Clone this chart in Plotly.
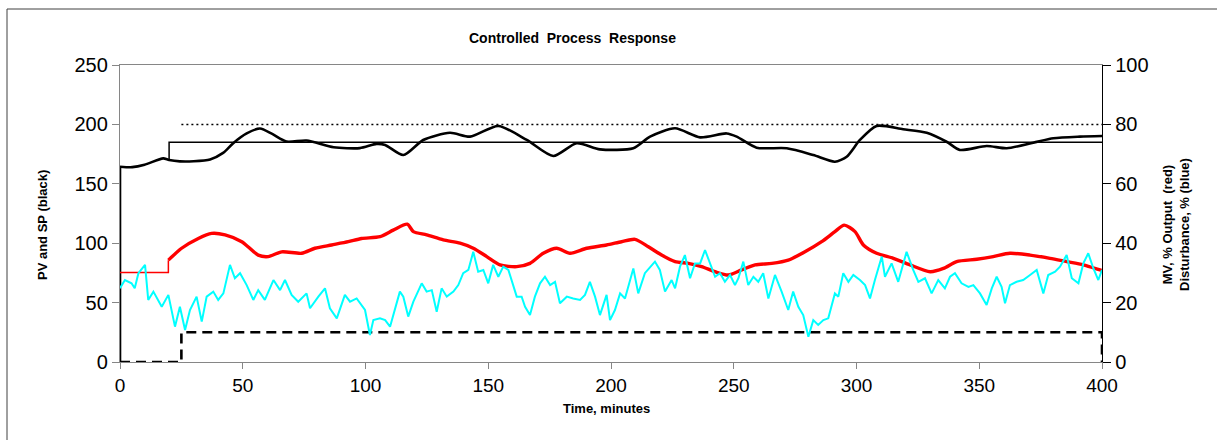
import plotly.graph_objects as go

# ---------------- data ----------------
SP_T = [20, 20, 400]
SP_VAL = [170, 185, 185]

LIMIT_T = [25, 400]
LIMIT_VAL = [200, 200]

STEP_T = [0, 25, 25, 400, 400]
STEP_PCT = [0, 0, 10, 10, 0]

PV_T = [0, 5, 10, 17.6, 20, 24.4, 30, 36.7, 42, 46, 51.6, 57, 62, 67.8, 76, 87, 97.7,
        104.5, 108, 115.4, 123.5, 134.4, 142.6, 154.1, 165.7, 176.5, 186, 195.5, 209.1,
        215.9, 226.1, 236.3, 247.1, 251.2, 259.3, 271.6, 282.4, 291.2, 296, 301.4, 308.2,
        319, 328.6, 336.7, 342.1, 353, 361.2, 372, 380.2, 391, 400]
PV_VAL = [164.4, 164, 166, 171.4, 170, 168.9, 169, 170.5, 176, 184, 192.4, 196.5, 192,
          185.6, 186.4, 180.8, 180, 183.6, 182.7, 174.2, 186.9, 193, 189.7, 198.7, 186.9,
          173.4, 184.1, 179, 179.9, 189.7, 196.7, 189.1, 192.4, 189.7, 180.4, 179.9, 174.2,
          168.6, 172.8, 186.9, 198.7, 195.9, 193, 185.4, 178.5, 181.8, 179.9, 184.6, 188.3,
          189.7, 190.2]

MV_T = [0, 19.7, 19.7, 25.1, 31.9, 37.3, 42.8, 49.6, 56.3, 60.4, 65.9, 74, 79.4, 86.2, 93,
        98.4, 105.9, 111.3, 117, 119.5, 124.9, 131.7, 138.5, 143.9, 149.4, 154.8, 161.6,
        167, 172.4, 177.9, 183.3, 190.1, 198.2, 204.3, 209.8, 215.2, 220.6, 226.1, 231.5,
        236.9, 242.4, 247.8, 253.2, 258.7, 265.5, 272.2, 279, 285.8, 291.2, 295, 299.4,
        302.8, 308.2, 315, 321.8, 330, 335.4, 340.8, 349, 355.7, 362.5, 370.7, 378.8, 385.6,
        392.4, 399.2, 400]
MV_PCT = [30.1, 30.1, 34.3, 38.3, 41.6, 43.3, 42.8, 40.5, 36, 35.5, 37.1, 36.6, 38.3, 39.4,
          40.5, 41.6, 42.2, 44.4, 46.4, 43.9, 42.8, 41.1, 40, 38.3, 35.5, 32.7, 32.1, 33.2,
          36.6, 38.3, 36.6, 38.3, 39.4, 40.5, 41.3, 38.8, 36, 33.8, 33.2, 32.1, 30.4, 29.3,
          31, 32.7, 33.2, 34.3, 37.1, 40.5, 43.9, 46.1, 43.9, 39.4, 36.6, 34.9, 32.7, 30.4,
          31.5, 33.8, 34.6, 35.5, 36.6, 36, 34.9, 33.8, 32.7, 31, 30.8]

DIST_T = [0, 2, 4.7, 6, 7.5, 10.2, 11.5, 13.6, 17, 19.7, 22.4, 24.4, 26.5, 28.5, 31.2, 33.3,
          35.3, 38, 40, 42.1, 44.8, 46.8, 48.9, 51.6, 54.3, 56.3, 59, 62.5, 65.2, 67.2, 69.9,
          72.6, 76, 77.4, 80.8, 83.5, 85.5, 88.3, 91.6, 93.7, 96.4,
          99.8, 101.8, 103.2, 105.9, 108, 110, 114, 115.4, 117.4, 119.5, 122.9, 124.9, 127,
          129, 131, 133.1, 135.8, 137.8, 139.8, 141.9, 143.9, 145.9, 148, 150, 152, 154.1,
          156.1, 158.2, 161.6, 163.6, 165, 167, 169, 171.1, 173.1, 175.2, 177.2, 179.2, 182,
          184.6, 187.4, 189.4, 191.4, 193.5, 195.5, 198.2,
          199.6, 201.6, 203.7, 205.7, 209.1, 211.1, 213.8, 217.9, 219.9, 222, 224.7, 226.1,
          228.1, 230.1, 232.2, 234.2, 236.3, 238.3, 240.3, 242.4, 244.4, 246.4, 248.5, 250.5,
          251.9, 253.9, 255.9, 258, 260, 262, 264.1, 266.8, 269.5, 272.2, 274.2, 276.3, 278.3,
          280.4, 282.4, 284.4, 286.5, 288.5, 291.2, 292.6, 294.6, 296.7, 298.7,
          301.4, 303.5, 305.5, 307.5, 310.3, 311.6, 314.3, 317, 320.4, 323.1, 325.2, 327.9,
          330.6, 333.3, 336, 338.1, 340.1, 342.8, 345.6, 347.6, 350.3, 353, 355.1, 357.1,
          359.1, 360.5, 362.5, 365.2, 367.9, 370.7, 373.4, 376.1, 378.1, 380.9, 382.9, 385.6,
          387.7, 390.4, 392.4, 394.4, 396.5, 398.5, 400]
DIST_PCT = [24.8, 27.6, 26.5, 24.8, 29.9, 32.7, 20.9, 23.7, 18.6, 22.6, 11.9, 18.6, 10.8, 17.5,
            22, 13.6, 22, 23.7, 20.9, 23.1, 32.7, 28.2, 29.9, 25.9, 20.9, 24.2, 20.9, 27.6,
            24.2, 27.6, 22.6, 20.3, 23.1, 18.1, 22, 24.8, 18.1, 14.7, 22.6, 20.3, 21.4,
            17.5, 9.1, 14.1, 14.7, 14.1, 11.9, 23.7, 22, 15.3, 20.3, 26.5, 23.7, 24.2, 16.9,
            24.8, 22, 23.7, 25.9, 29.9, 31, 37.1, 30.4, 31, 26.5, 32.7, 28.7, 32.1, 31, 22, 22,
            18.6, 15.8, 22, 26.5, 28.7, 25.9, 27, 19.8, 22, 21.4, 20.9, 22.6, 27, 22, 15.8,
            22.6,
            14.1, 17.5, 23.1, 21.4, 31.5, 23.1, 29.9, 33.8, 31, 23.7, 27.6, 24.8, 32.1, 36,
            28.2, 33.2, 33.2, 37.7, 33.2, 28.7, 29.9, 27, 29.3, 25.9, 28.2, 33.8, 25.9, 28.7,
            27, 29.9, 21.4, 29.3, 23.7, 17.5, 23.7, 18.6, 15.8, 8.5, 14.1, 12.5, 14.1, 14.7,
            23.1, 22, 29.9, 27, 29.3,
            27.6, 25.9, 21.4, 27.6, 35.5, 28.7, 33.2, 27, 37.1, 31, 27, 28.2, 23.1, 27.6, 24.8,
            28.7, 29.9, 26.5, 25.3, 25.9, 23.1, 19.2, 24.8, 28.7, 25.3, 19.8, 25.9, 27, 27.6,
            29.3, 31, 23.1, 29.3, 30.4, 32.1, 36, 28.2, 26.5, 33.2, 36.6, 31.5, 27.6, 31]

X_TICKS = [0, 50, 100, 150, 200, 250, 300, 350, 400]
Y_TICKS = [0, 50, 100, 150, 200, 250]
Y2_TICKS = [0, 20, 40, 60, 80, 100]

FONT = "Liberation Sans, Arial, sans-serif"
GRAY = "#868686"

fig = go.Figure()


def add(x, y, axis="y", **line):
    fig.add_trace(go.Scatter(x=x, y=y, yaxis=axis, mode="lines", line=line,
                             showlegend=False, hoverinfo="skip"))


add(SP_T, SP_VAL, color="black", width=1.5)
add(LIMIT_T, LIMIT_VAL, color="black", width=1.5, dash="2px,3px")
add(STEP_T, STEP_PCT, "y2", color="black", width=2.6, dash="10px,6px")
# MV: flat start + step (straight), then smooth response
add(MV_T[:3], MV_PCT[:3], "y2", color="#ff0000", width=1.5)
add(MV_T[2:], MV_PCT[2:], "y2", color="#ff0000", width=3.4, shape="spline", smoothing=0.7)
add(DIST_T, DIST_PCT, "y2", color="#00ffff", width=2)
# PV: initial rise from zero, then smooth response
add([PV_T[0], PV_T[0]], [0, PV_VAL[0]], color="black", width=2.6)
add(PV_T, PV_VAL, color="black", width=2.6, shape="spline", smoothing=0.7)

W, H = 1217, 440
L, R, T, B = 120, 1102, 65, 362
pw, ph = R - L, B - T


def px(x):
    return (x - L) / pw


def py(y):
    return (B - y) / ph


fig.update_layout(
    width=W, height=H,
    margin=dict(l=L, r=W - R, t=T, b=H - B, autoexpand=False),
    paper_bgcolor="white", plot_bgcolor="white",
    font=dict(family=FONT, color="black"),
    xaxis=dict(range=[0, 400], tickvals=X_TICKS, showgrid=False, zeroline=False,
               showline=True, linecolor=GRAY, linewidth=1.2, mirror=True,
               ticks="outside", ticklen=6, tickcolor=GRAY, tickwidth=1,
               tickfont=dict(size=19, family=FONT)),
    yaxis=dict(range=[0, 250], tickvals=Y_TICKS, showgrid=False, zeroline=False,
               showline=True, linecolor=GRAY, linewidth=1.2,
               ticks="outside", ticklen=7, tickcolor=GRAY, tickwidth=1,
               tickfont=dict(size=20, family=FONT)),
    yaxis2=dict(range=[0, 100], tickvals=Y2_TICKS, overlaying="y", side="right",
                showgrid=False, zeroline=False, showline=True, linecolor="black",
                linewidth=1.2, ticks="outside", ticklen=8, tickcolor="black", tickwidth=1,
                tickfont=dict(size=20, family=FONT)),
    yaxis3=dict(range=[0, 100], tickvals=Y2_TICKS, overlaying="y", side="right",
                anchor="x", showgrid=False, zeroline=False, showline=False,
                ticks="inside", ticklen=7, tickcolor="black", tickwidth=1,
                showticklabels=False),
    annotations=[
        dict(text="<b>Controlled\u00a0 Process\u00a0 Response</b>", xref="paper", yref="paper",
             x=px(572), y=py(38), showarrow=False, font=dict(size=14, family=FONT),
             xanchor="center", yanchor="middle"),
        dict(text="<b>PV and SP (black)</b>", xref="paper", yref="paper",
             x=px(42), y=py(225), showarrow=False, textangle=-90,
             font=dict(size=13, family=FONT), xanchor="center", yanchor="middle"),
        dict(text="<b>MV, % Output\u00a0 (red)</b><br><b>Disturbance, % (blue)</b>",
             xref="paper", yref="paper", x=px(1176), y=py(225), showarrow=False,
             textangle=-90, font=dict(size=13, family=FONT),
             xanchor="center", yanchor="middle"),
        dict(text="<b>Time, minutes</b>", xref="paper", yref="paper",
             x=px(606), y=py(408), showarrow=False, font=dict(size=13, family=FONT),
             xanchor="center", yanchor="middle"),
    ],
    shapes=[
        dict(type="line", xref="paper", yref="paper", x0=px(7), x1=px(7), y0=py(9), y1=py(460),
             line=dict(color="#404040", width=1)),
        dict(type="line", xref="paper", yref="paper", x0=px(7), x1=px(1240), y0=py(9), y1=py(9),
             line=dict(color="#404040", width=1)),
    ],
)

fig.write_html("out.html", config={"displayModeBar": False, "staticPlot": True})

# remove the browser's default page margin so the figure sits at the window origin
with open("out.html", encoding="utf-8") as f:
    html = f.read()
html = html.replace("<head>", "<head><style>html,body{margin:0;padding:0;overflow:hidden}</style>", 1)
with open("out.html", "w", encoding="utf-8") as f:
    f.write(html)
